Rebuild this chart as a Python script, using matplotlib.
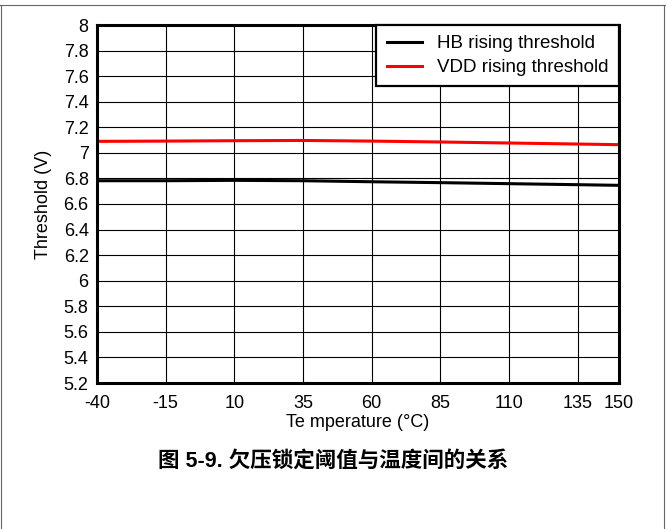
import matplotlib
matplotlib.use("Agg")
import matplotlib.pyplot as plt
from matplotlib.lines import Line2D

plt.rcParams['font.family'] = ['Liberation Sans', 'Noto Sans CJK SC', 'DejaVu Sans']

# values
temps = [-40, -15, 10, 35, 60, 85, 110, 135, 150]
hb_rising = [6.782, 6.782, 6.785, 6.782, 6.774, 6.767, 6.759, 6.751, 6.746]
vdd_rising = [7.090, 7.092, 7.095, 7.097, 7.092, 7.085, 7.077, 7.069, 7.064]

x_ticks = [-40, -15, 10, 35, 60, 85, 110, 135, 150]
y_ticks = [5.2, 5.4, 5.6, 5.8, 6, 6.2, 6.4, 6.6, 6.8, 7, 7.2, 7.4, 7.6, 7.8, 8]

fig = plt.figure(figsize=(6.66, 5.29), dpi=100)
ax = fig.add_axes([97 / 666, 1 - 383 / 529, 522 / 666, 358 / 529])

ax.plot(temps, hb_rising, color="black", lw=2.2, label="HB rising threshold")
ax.plot(temps, vdd_rising, color="#ff0000", lw=2.2, label="VDD rising threshold")

ax.set_xlim(-40, 150)
ax.set_ylim(5.2, 8)
ax.set_xticks(x_ticks)
ax.set_xticklabels([str(t) for t in x_ticks])
ax.set_yticks(y_ticks)
ax.set_yticklabels([f"{v:g}" for v in y_ticks])
ax.tick_params(length=0, labelsize=13, colors="black")
ax.tick_params(axis="x", pad=9)
ax.tick_params(axis="y", pad=6)
ax.grid(True, color="black", lw=0.8)
for s in ax.spines.values():
    s.set_linewidth(2.2)
    s.set_color("black")

ax.set_xlabel("Te mperature (°C)", fontsize=13, labelpad=1)
ax.set_ylabel("Threshold (V)", fontsize=13, labelpad=8)

leg = ax.legend(loc="upper right", fontsize=13.5, borderaxespad=0, fancybox=False,
                framealpha=1, edgecolor="black", handlelength=1.9,
                labelspacing=0.35, borderpad=0.55)
leg.get_frame().set_linewidth(1.6)

fig.text(0.5, 1 - 461 / 529, "图 5-9. 欠压锁定阈值与温度间的关系", ha="center", va="center",
         fontsize=15.5, fontweight="bold")

# thin grey page frame
for xs, ys in [([0, 1], [1 - 5 / 529] * 2), ([0.5 / 666] * 2, [0, 1 - 5 / 529]),
               ([664 / 666] * 2, [0, 1 - 5 / 529])]:
    fig.add_artist(Line2D(xs, ys, color="#666666", lw=0.8, transform=fig.transFigure))

fig.savefig("out.png", dpi=100)
